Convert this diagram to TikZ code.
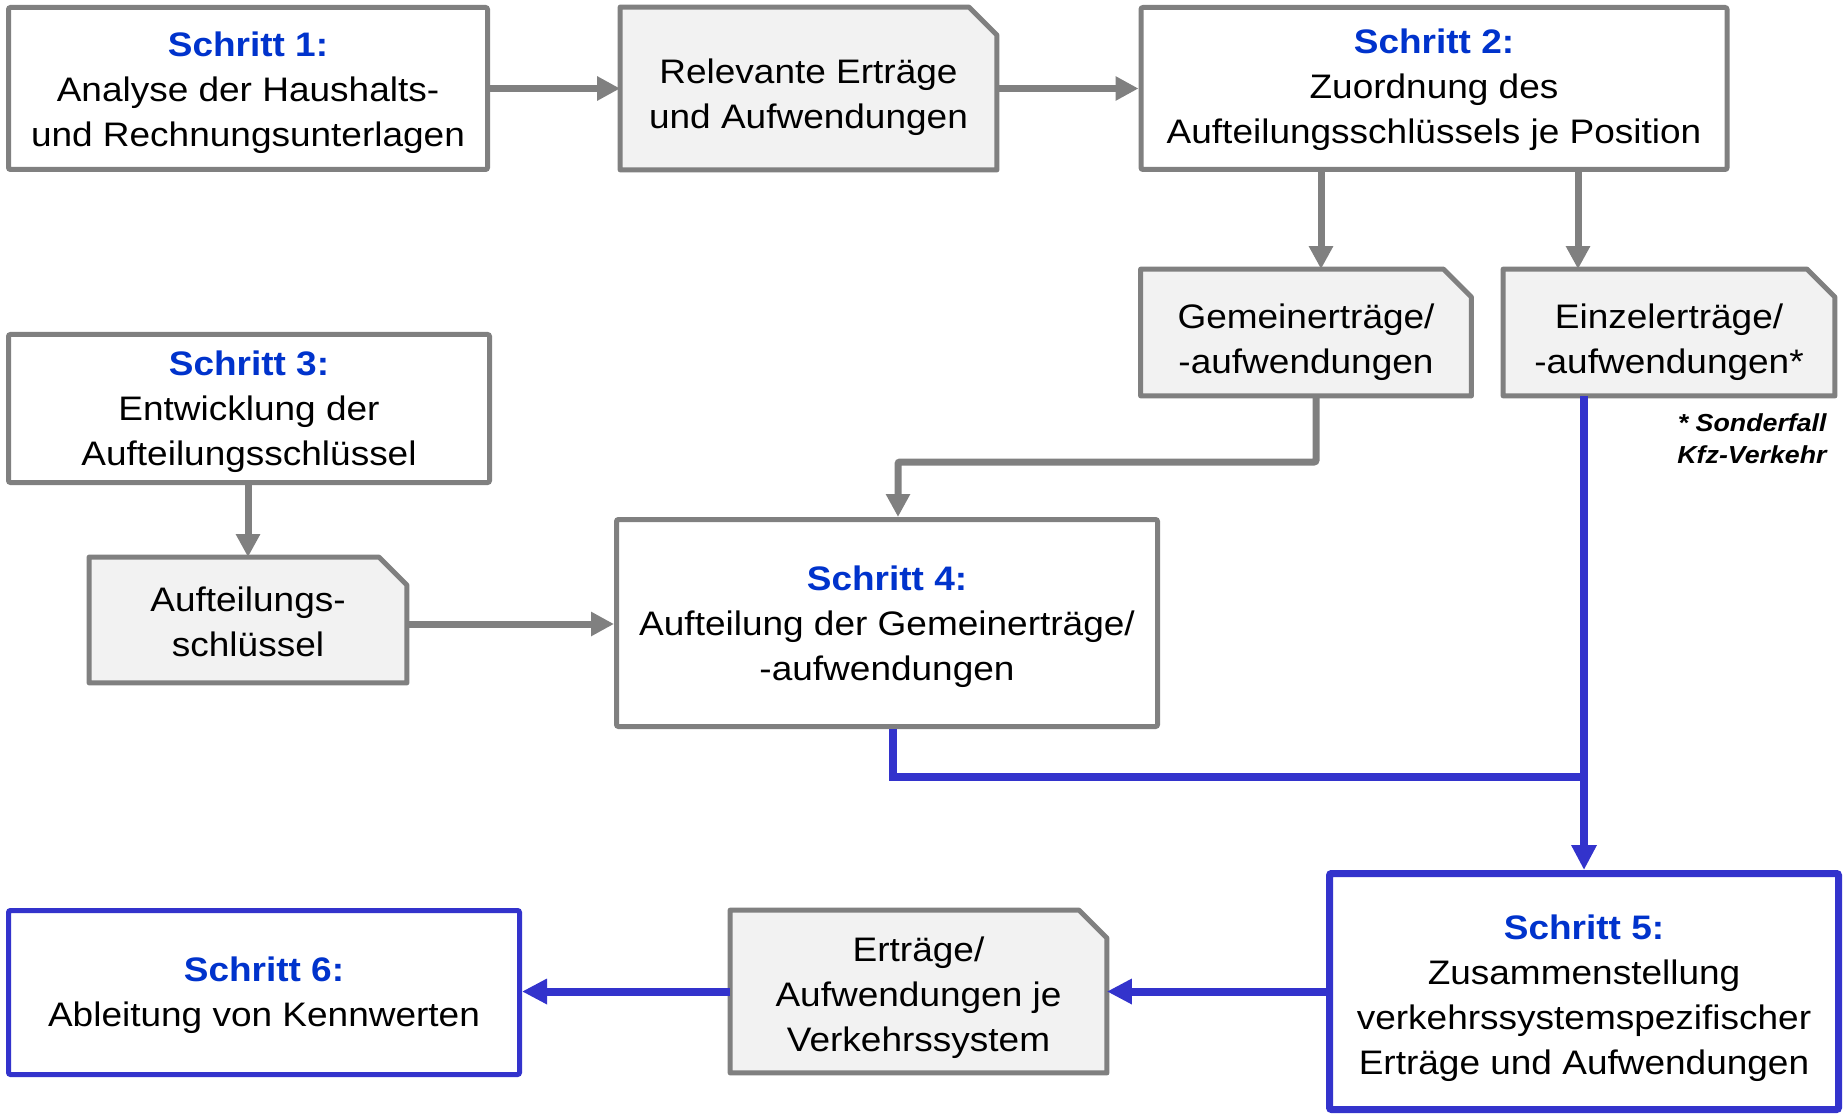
\documentclass[tikz,border=0pt]{standalone}
\usepackage{fontspec}
\setmainfont{Liberation Sans}[FakeStretch=1.088]
\usetikzlibrary{arrows.meta,calc,backgrounds}
\definecolor{gr}{HTML}{808080}
\definecolor{hb}{HTML}{0033CC}
\definecolor{lb}{HTML}{3333CC}
\definecolor{df}{HTML}{F2F2F2}
\newcommand\stepHead[1]{{\color{hb}\bfseries Schritt #1:}}
\newcommand\docOutline[1]{\draw[draw=gr, line width=2.5pt, fill=df, line join=round]
  (#1.south west) -- (#1.north west) -- ([xshift=-14pt]#1.north east) -- ([yshift=-14pt]#1.north east) -- (#1.south east) -- cycle;}
\newcommand\boxText[3]{\node[txt] (#1t) at ([yshift=#2]#1.center) {#3};}
\begin{document}
\begin{tikzpicture}[x=0.5pt,y=-0.5pt,
  every node/.style={inner sep=0pt},
  txt/.style={font=\fontsize{17}{22.5}\selectfont, align=center},
  box/.style={draw=gr, line width=2.5pt, fill=white, rounded corners=1pt},
  bbox/.style={draw=lb, line width=2.5pt, fill=white, rounded corners=1pt},
  docnode/.style={},
  garrow/.style={draw=gr, line width=3.5pt, -{Triangle[length=11.5pt,width=11.5pt]}},
  barrow/.style={draw=lb, line width=4pt, -{Triangle[length=12.5pt,width=12pt]}},
  bline/.style={draw=lb, line width=4pt},
  note/.style={font=\fontsize{12.3}{16}\selectfont\bfseries\itshape, align=right}
]
\useasboundingbox (0,0) rectangle (1845,1117);

% shapes
\node[box, minimum width=239.5pt, minimum height=81pt] (b1) at (248,88.5) {};
\node[docnode, minimum width=188pt, minimum height=81pt] (d1) at (808.5,88.5) {};
\node[box, minimum width=293pt, minimum height=81pt] (b2) at (1434,88.5) {};
\node[docnode, minimum width=165pt, minimum height=63pt] (gem) at (1306,332.5) {};
\node[docnode, minimum width=165.5pt, minimum height=63pt] (ein) at (1669,332.5) {};
\node[box, minimum width=240.5pt, minimum height=74pt] (b3) at (249,408.5) {};
\node[docnode, minimum width=158.5pt, minimum height=62.5pt] (d2) at (248,620) {};
\node[box, minimum width=270.5pt, minimum height=103.5pt] (b4) at (887,623) {};
\node[bbox, line width=3.5pt, minimum width=254.5pt, minimum height=118pt] (b5) at (1584,991.5) {};
\node[docnode, minimum width=188pt, minimum height=81pt] (d3) at (918.5,991.5) {};
\node[bbox, minimum width=255.5pt, minimum height=82pt] (b6) at (264,992.5) {};

% document outlines
\begin{scope}[on background layer]
  \docOutline{d1}
  \docOutline{gem}
  \docOutline{ein}
  \docOutline{d2}
  \docOutline{d3}
\end{scope}

% texts
\boxText{b1}{-2pt}{\stepHead{1}\\Analyse der Haushalts-\\und Rechnungsunterlagen}
\boxText{d1}{-4.5pt}{Relevante Erträge\\und Aufwendungen}
\boxText{b2}{-0.5pt}{\stepHead{2}\\Zuordnung des\\Aufteilungsschlüssels je Position}
\boxText{gem}{-5pt}{Gemeinerträge/\\-aufwendungen}
\boxText{ein}{-5pt}{Einzelerträge/\\-aufwendungen*}
\node[note, anchor=east] (nt) at (1827,439) {* Sonderfall\\Kfz-Verkehr};
\boxText{b3}{-1.5pt}{\stepHead{3}\\Entwicklung der\\Aufteilungsschlüssel}
\boxText{d2}{-1pt}{Aufteilungs-\\schlüssel}
\boxText{b4}{-2pt}{\stepHead{4}\\Aufteilung der Gemeinerträge/\\-aufwendungen}
\boxText{b5}{-3.5pt}{\stepHead{5}\\Zusammenstellung\\verkehrssystemspezifischer\\Erträge und Aufwendungen}
\boxText{d3}{-3pt}{Erträge/\\Aufwendungen je\\Verkehrssystem}
\boxText{b6}{-1.5pt}{\stepHead{6}\\Ableitung von Kennwerten}

% helper coordinates
\coordinate (a1) at ([xshift=7.5pt]gem.north);
\coordinate (a2) at ([xshift=-45.5pt]ein.north);
\coordinate (g1) at ([xshift=5pt]gem.south);
\coordinate (g2) at ([xshift=5.5pt]b4.north);
\coordinate (gy) at (0,462);
\coordinate (s1) at ([yshift=-2pt]d2.east);
\coordinate (k1) at ([xshift=3pt]b4.south);
\coordinate (j) at (1584,777);

% gray connectors
\draw[garrow] (b1.east) -- (d1.west);
\draw[garrow] (d1.east) -- (b2.west);
\draw[garrow] (b2.south -| a1) -- (a1);
\draw[garrow] (b2.south -| a2) -- (a2);
\draw[garrow] (d2.north |- b3.south) -- (d2.north);
\draw[garrow] (s1) -- (s1 -| b4.west);
\draw[garrow, rounded corners=1pt] (g1) -- (g1 |- gy) -| (g2);

% blue connectors
\draw[barrow] (b5.north |- ein.south) -- (b5.north);
\draw[bline] (k1) |- (j);
\draw[barrow] (b5.west) -- (d3.east);
\draw[barrow] (d3.west) -- (d3.west -| b6.east);
\end{tikzpicture}
\end{document}
